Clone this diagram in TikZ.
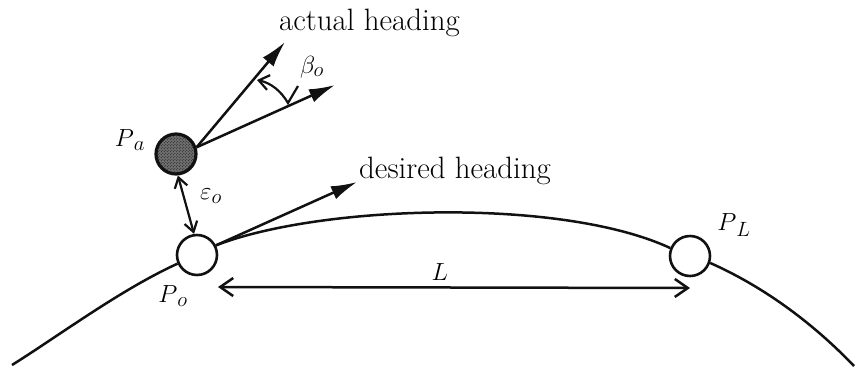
\documentclass[tikz,border=0pt]{standalone}
\usepackage{amsmath,amssymb}
\usepackage{tikz}
\usetikzlibrary{arrows.meta,patterns,calc}
\definecolor{ink}{HTML}{111111}
\tikzset{
  wpt/.style={circle,draw=ink,line width=2.6bp,fill=white,minimum size=40bp,inner sep=0pt},
  apt/.style={circle,draw=ink,line width=3.2bp,minimum size=40bp,inner sep=0pt,
    preaction={fill=ink!60},pattern=crosshatch dots,pattern color=ink},
  track/.style={ink,line width=2.5bp},
  hdg/.style={ink,line width=2.5bp,-{Latex[length=26bp,width=14bp]}},
  spanarr/.style={ink,line width=2.5bp,{Straight Barb[length=13bp,width=18bp]}-{Straight Barb[length=13bp,width=18bp]}},
  gaparr/.style={ink,line width=2.2bp,{Straight Barb[length=10bp,width=13bp]}-{Straight Barb[length=10bp,width=13bp]}},
  lbl/.style={font=\fontsize{31}{35}\selectfont,inner sep=0pt},
}
\begin{document}
\begin{tikzpicture}[x=1bp,y=-1bp]
  \useasboundingbox (0,0) rectangle (861,370);
  % ===================== points on the track =====================
  \node[apt] (pa) at (176,154) {};
  \node[wpt] (po) at (197,255) {};
  \node[wpt] (pl) at (690,256) {};
  \coordinate (gl) at (12,365);
  \coordinate (gr) at (854,366);
  % the track itself
  \draw[track] (gl) .. controls (60,335) and (120,290) .. (po.204);
  \draw[track] (po.27) .. controls (320,205) and (560,197) .. (pl.158);
  \draw[track] (pl.-19) .. controls (760,285) and (810,320) .. (gr);
  % ===================== headings =====================
  \coordinate (acttip) at (285,42);
  \coordinate (partip) at (335,85);
  \coordinate (destip) at (357,182);
  \draw[hdg] (pa.18) -- (acttip);
  \draw[hdg] (pa.18) -- (partip);
  \draw[hdg] (po.27) -- (destip);
  % angle between them
  \coordinate (tk) at (298,86);
  \coordinate (a0) at (288,103);
  \coordinate (a1) at (257,80);
  \draw[ink,line width=2.2bp,-{Straight Barb[length=10bp,width=15bp]}]
    (tk) -- (a0) .. controls (281,91) and (271,83) .. (a1);
  % ===================== offsets =====================
  \draw[gaparr] (pa.-85) -- (po.98);
  \coordinate (lbeg) at (218,287);
  \coordinate (lend) at (690,288);
  \draw[spanarr] (lbeg) -- (lend);
  % ===================== labels =====================
  \node[lbl,anchor=base west] (acttxt) at (279,30) {actual heading};
  \node[lbl,anchor=base west] (destxt) at (359,178) {desired heading};
  \node[lbl] (beta) at (312,67) {$\beta_{o}$};
  \node[lbl] (lpa) at (130,140) {$P_{\,a}$};
  \node[lbl] (leps) at (211,196) {$\varepsilon_{o}$};
  \node[lbl] (lpo) at (173,296) {$P_{\,o}$};
  \node[lbl] (ll) at (440,272) {$L$};
  \node[lbl] (lpl) at (734,225) {$P_{\,L}$};
\end{tikzpicture}
\end{document}
